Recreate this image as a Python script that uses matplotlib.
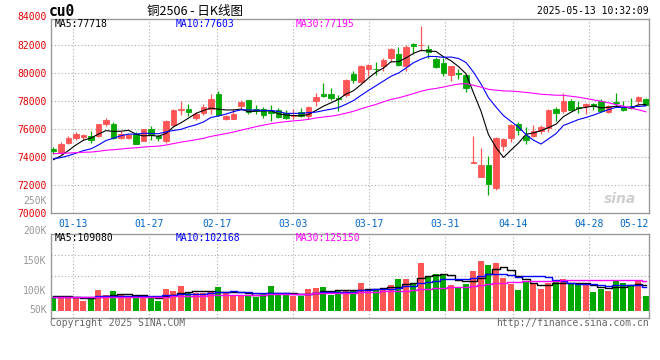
import numpy as np
import pandas as pd
import matplotlib
matplotlib.use("Agg")
import matplotlib.pyplot as plt
import matplotlib.transforms as mtransforms

# ---- data (for cu2506) ----
# sessions 2025-01-08 .. 2025-05-13, one candle per session
opens = [74600, 74310, 75030, 75360, 75460, 75500, 75500, 76330, 76380, 75360,
         75380, 75670, 75170, 76030, 75480, 75120, 76260, 77380, 77450, 76790,
         77120, 77450, 78520, 76740, 76740, 77670, 78050, 77410, 77450, 77260,
         77380, 77140, 76930, 77220, 76930, 77980, 78520, 78520, 78200, 78400,
         79950, 79330, 80290, 80310, 80520, 81050, 81360, 80520, 82100, 81980,
         81710, 81000, 80710, 79880, 79980, 79860, 73600, 72600, 73430, 71770,
         74760, 75380, 76380, 75500, 75500, 75830, 76070, 77450, 77310, 77980,
         77550, 77620, 77810, 77980, 77220, 77900, 77600, 77580, 77980, 78170]
highs = [74730, 75070, 75480, 75790, 75670, 75830, 76380, 76760, 76480, 75860,
         75670, 75790, 76030, 76190, 75550, 76620, 77410, 78020, 77760, 77220,
         77810, 78480, 78690, 76980, 77450, 78050, 78080, 77740, 77570, 77690,
         77500, 77380, 77450, 77520, 77620, 78570, 79310, 78930, 78400, 79550,
         80120, 80570, 80640, 80760, 81050, 81760, 81830, 82000, 82140, 83380,
         82000, 81170, 81050, 80520, 80290, 79930, 75530, 74650, 74100, 75410,
         75380, 76380, 76500, 76140, 76260, 76260, 77450, 77570, 78600, 78170,
         78000, 77860, 77880, 78120, 77690, 78600, 78000, 78240, 78330, 78240]
lows = [74200, 74220, 74950, 75190, 75190, 75030, 75430, 76220, 75310, 75260,
        75310, 74930, 75120, 75190, 75120, 75000, 76140, 76980, 76900, 76620,
        76980, 77100, 76930, 76620, 76690, 77330, 77100, 77100, 76790, 76550,
        76790, 76740, 76690, 76860, 76690, 77640, 78290, 78050, 77260, 78290,
        79310, 79290, 79810, 79880, 80170, 80810, 80520, 80170, 81360, 81570,
        81050, 80330, 79760, 79450, 79570, 78670, 73580, 72560, 71290, 71670,
        74410, 75070, 75550, 74910, 75430, 75670, 75790, 76550, 77140, 77330,
        77170, 77050, 77380, 77220, 77140, 77640, 77290, 77400, 77690, 77690]
closes = [74420, 74950, 75360, 75670, 75590, 75240, 76330, 76620, 75360, 75670,
          75570, 74950, 75980, 75550, 75380, 76550, 77330, 77420, 77190, 77100,
          77600, 78170, 77030, 76910, 77100, 77910, 77220, 77260, 76980, 77120,
          76860, 76810, 77020, 76930, 77570, 78310, 78330, 78240, 78140, 79480,
          79480, 80520, 80570, 80260, 80950, 81710, 80600, 81860, 81900, 82020,
          81480, 80450, 79980, 80480, 79930, 78910, 73650, 73430, 72080, 75360,
          75310, 76310, 75910, 75240, 75830, 76140, 77380, 77120, 77980, 77380,
          77500, 77760, 77620, 77260, 77640, 77860, 77330, 77520, 78290, 77740]
volumes = [57900, 60800, 60800, 54000, 44400, 54000, 87800, 67600, 84000, 71400,
           54000, 60800, 60800, 54000, 43400, 92600, 84000, 104200, 74300, 74300,
           74300, 84000, 100400, 74300, 67600, 67600, 67600, 60800, 71400, 104200,
           67600, 67600, 63700, 63700, 92600, 96500, 100400, 67600, 87800, 87800,
           87800, 118700, 87800, 87800, 92600, 109000, 133200, 133200, 118700, 200700,
           139900, 155400, 149600, 109000, 95500, 112900, 166000, 208400, 192000, 200700,
           139000, 111900, 87800, 125500, 118700, 92600, 118700, 120600, 133200, 111900,
           109000, 109000, 81100, 92600, 84000, 129300, 118700, 109000, 125500, 63700]

# earlier sessions (Dec 2024 / early Jan), estimated from where the MA lines start
prev_closes = [74420, 74600, 74800, 74700, 74900, 74650, 74380, 74250, 74100, 73950,
               74050, 74300, 74500, 74420, 74280, 74180, 74350, 74600, 74550, 74420,
               74150, 74020, 73880, 73750, 73950, 73600, 73420, 73700, 73910]
prev_volumes = [52000, 58000, 61000, 55000, 63000, 57000, 60000, 54000, 59000, 62000,
                56000, 58000, 53000, 60000, 64000, 57000, 55000, 61000, 59000, 56000,
                58000, 54000, 57000, 60000, 52000, 66000, 63000, 70000, 65000]

date_idx = [3, 13, 22, 32, 42, 52, 61, 71, 78]
date_labels = ["01-13", "01-27", "02-17", "03-03", "03-17", "03-31", "04-14", "04-28", "05-12"]
price_ticks = [70000, 72000, 74000, 76000, 78000, 80000, 82000]
vol_tick_vals = [250000, 200000, 150000, 100000, 50000]
vol_tick_labels = ["250K", "200K", "150K", "100K", "50K"]

title = "铜2506 - 日K线图"
symbol = "cu0"
stamp = "2025-05-13 10:32:09"
ma_text = ["MA5:77718", "MA10:77603", "MA30:77195"]
vol_ma_text = ["MA5:109080", "MA10:102168", "MA30:125150"]

# ---- style ----
RED = "#ff5555"
GREEN = "#00a800"
MA_COLORS = ["#000000", "#0000ff", "#ff00ff"]
FRAME = "#9a9a9a"
GRID = "#aaaaaa"
MONO = "DejaVu Sans Mono"
FS = 7

n = len(closes)
x = np.arange(n)
o = np.array(opens)
c = np.array(closes)
up = c >= o
colors = np.where(up, RED, GREEN)

cl_all = pd.Series(prev_closes + closes, dtype=float)
vol_all = pd.Series(prev_volumes + volumes, dtype=float)
k = len(prev_closes)
ma_price = [cl_all.rolling(w).mean().iloc[k:].values for w in (5, 10, 30)]
ma_vol = [vol_all.rolling(w).mean().iloc[k:].values for w in (5, 10, 30)]

fig = plt.figure(figsize=(6.6, 3.6), dpi=100)
fig.patch.set_facecolor("white")
ax = fig.add_axes([0.0768, 0.4083, 0.9065, 0.5389])
axv = fig.add_axes([0.0768, 0.1167, 0.9065, 0.2333], sharex=ax)

x_lo, x_hi = -0.37, n - 0.6
# Sina's date grid runs a touch wider than the candle pitch
tick_pos = [i * 1.0117 - 0.44 for i in date_idx]
tick_pos[-1] = x_hi  # last label is pinned to the right edge

for a in (ax, axv):
    for s in a.spines.values():
        s.set_color(FRAME)
        s.set_linewidth(1.0)
    a.tick_params(length=0)
    for p in tick_pos[:-1]:
        a.axvline(p, color=GRID, lw=0.8, ls=(0, (1, 2)), zorder=0)

# ---- price panel ----
ax.vlines(x, lows, highs, colors=colors, lw=0.9, zorder=2)
ax.bar(x, np.abs(c - o), bottom=np.minimum(o, c), width=0.68, color=colors,
       edgecolor=colors, lw=0.6, zorder=3)
for ma, col in zip(ma_price, MA_COLORS):
    ax.plot(x, ma, color=col, lw=0.8, zorder=4)

ax.set_xlim(x_lo, x_hi)
ax.set_ylim(70000, 83860)
ax.set_yticks(price_ticks)
ax.set_yticklabels([str(v) for v in price_ticks], fontfamily=MONO, fontsize=FS, color="#e00000")
ax.tick_params(axis="y", pad=3)
ax.text(-0.007, 84000, "84000", transform=ax.get_yaxis_transform(), ha="right", va="center",
        fontfamily=MONO, fontsize=FS, color="#e00000", clip_on=False)
for yv in price_ticks[1:]:
    ax.axhline(yv, color=GRID, lw=0.8, ls=(0, (1, 2)), zorder=0)

ax.set_xticks(tick_pos)
ax.set_xticklabels(date_labels, fontfamily=MONO, fontsize=FS, color="#0066cc")
ax.tick_params(axis="x", pad=4)
ax.get_xticklabels()[-1].set_horizontalalignment("right")

for txt, col, xp in zip(ma_text, MA_COLORS, (0.006, 0.208, 0.41)):
    ax.text(xp, 0.974, txt, transform=ax.transAxes, ha="left", va="center",
            fontfamily=MONO, fontsize=FS, color=col)

ax.text(0.978, 0.07, "sina", transform=ax.transAxes, ha="right", va="center",
        fontsize=10, fontstyle="italic", fontweight="bold", color="#cfcfcf")

# ---- volume panel ----
axv.bar(x, volumes, width=0.8, color=colors, lw=0, zorder=2)
for ma, col in zip(ma_vol, MA_COLORS):
    axv.plot(x, ma, color=col, lw=1.0, drawstyle="steps-mid", zorder=3)
v_lo, v_hi = -26700, 318000
axv.set_ylim(v_lo, v_hi)
for yv in np.linspace(v_lo, v_hi, 5)[1:-1]:
    axv.axhline(yv, color=GRID, lw=0.8, ls=(0, (1, 2)), zorder=0)
axv.set_yticks([])
axv.tick_params(axis="x", labelbottom=False)

# Sina prints the volume scale labels on their own (offset) scale
lab_lo, lab_hi = 55000, 195000
for v, lab in zip(vol_tick_vals, vol_tick_labels):
    frac = max((v - lab_lo) / (lab_hi - lab_lo), 0.1)
    axv.text(-0.007, frac, lab, transform=axv.transAxes, ha="right", va="center",
             fontfamily=MONO, fontsize=FS, color="#999999", clip_on=False)

for txt, col, xp in zip(vol_ma_text, MA_COLORS, (0.006, 0.208, 0.41)):
    axv.text(xp, 0.95, txt, transform=axv.transAxes, ha="left", va="center",
             fontfamily=MONO, fontsize=FS, color=col)

# ---- header / footer ----
fig.text(49 / 660, 1 - 11.5 / 360, symbol, ha="left", va="center",
         fontfamily=MONO, fontweight="bold", fontsize=10.5, color="black")
fig.text(195 / 660, 1 - 11 / 360, title, ha="center", va="center",
         fontfamily=["Noto Sans CJK SC", "DejaVu Sans"], fontsize=9, color="black")
fig.text(649 / 660, 1 - 11.5 / 360, stamp, ha="right", va="center",
         fontfamily=MONO, fontsize=FS, color="black")
fig.text(50 / 660, 1 - 323.5 / 360, "Copyright 2025 SINA.COM", ha="left", va="center",
         fontfamily=MONO, fontsize=FS, color="#666666")
fig.text(649 / 660, 1 - 323.5 / 360, "http://finance.sina.com.cn", ha="right", va="center",
         fontfamily=MONO, fontsize=FS, color="#666666")

fig.savefig("out.png", dpi=100)
